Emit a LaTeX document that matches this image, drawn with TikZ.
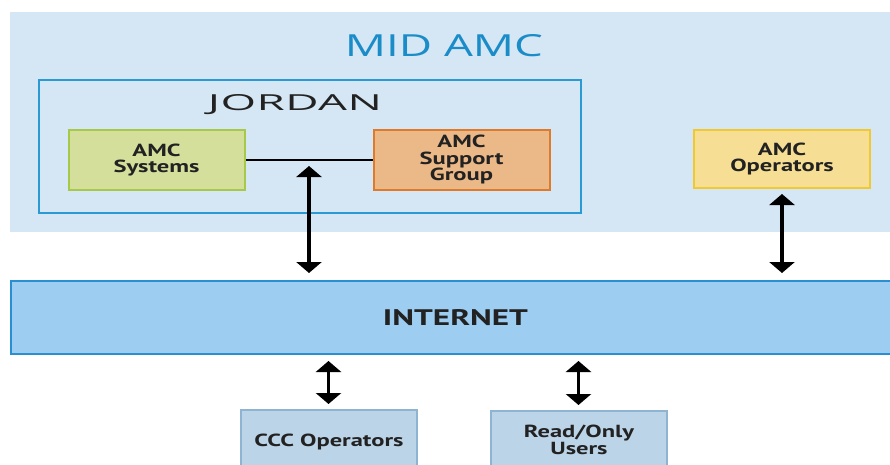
\documentclass[tikz,border=0pt]{standalone}
\usepackage{fontspec}
\setmainfont{PT Sans}
\newfontfamily\boxfont{PT Sans Bold}[FakeStretch=1.4]
\newfontfamily\titlefont{Open Sans}[LetterSpace=1]
\newfontfamily\midfont{Open Sans}
\usetikzlibrary{arrows.meta}
\definecolor{bgblue}{HTML}{D5E6F4}
\definecolor{jordanline}{HTML}{2A9AD4}
\definecolor{titleblue}{HTML}{1A8CC8}
\definecolor{sysfill}{HTML}{D4DF9C}
\definecolor{sysline}{HTML}{A6C94A}
\definecolor{supfill}{HTML}{EBB888}
\definecolor{supline}{HTML}{DD7A2C}
\definecolor{opsfill}{HTML}{F6DE94}
\definecolor{opsline}{HTML}{F0C830}
\definecolor{netfill}{HTML}{9DCDF1}
\definecolor{netline}{HTML}{2A8FD0}
\definecolor{usrfill}{HTML}{BCD4E7}
\definecolor{usrline}{HTML}{8FB4D2}
\definecolor{textdark}{HTML}{222222}
\tikzset{
  unit/.style={draw, line width=2pt, minimum width=176pt, minimum height=60pt,
    align=center, text=textdark, inner sep=0pt,
    font=\boxfont\fontsize{17.5}{16.5}\selectfont},
  boxtext/.style={text=textdark, align=center, inner sep=0pt,
    font=\boxfont\fontsize{17.5}{16.5}\selectfont},
  biarrow/.style={line width=3.6pt, {Triangle[width=25pt,length=11pt]}-{Triangle[width=25pt,length=11pt]}},
}
\begin{document}
\begin{tikzpicture}[x=1pt,y=-1pt]
\useasboundingbox (0,0) rectangle (890,465);
\clip (0,0) rectangle (890,465);
\fill[white] (0,0) rectangle (890,465);
% MID AMC region
\node[fill=bgblue, minimum width=880pt, minimum height=220pt, inner sep=0pt, anchor=north west] (mid) at (10,12) {};
\node[text=titleblue, inner sep=0pt, anchor=base] (midtitle) at (444,57) {\resizebox{198pt}{22pt}{\midfont MID AMC}};
% Jordan
\node[draw=jordanline, line width=1.6pt, minimum width=542pt, minimum height=133pt, inner sep=0pt, anchor=north west] (jordan) at (38,79) {};
\node[text=textdark, inner sep=0pt, anchor=base] (jordantitle) at (295,111) {\resizebox{174pt}{16pt}{\titlefont JORDAN}};
\node[unit, draw=sysline, fill=sysfill] (sys) at (156.5,160) {AMC\\Systems};
\node[unit, draw=supline, fill=supfill] (sup) at (461.5,160) {AMC\\Support\\Group};
\node[unit, draw=opsline, fill=opsfill, minimum height=58pt] (ops) at (782,159) {AMC\\Operators};
\draw[line width=2.5pt] (sys.east) -- (sup.west);
% Internet
\node[draw=netline, fill=netfill, line width=2pt, minimum width=884pt, minimum height=73pt, inner sep=0pt, anchor=north west] (net) at (10,280) {};
\node[text=textdark, inner sep=0pt, anchor=base] (nettext) at (455.5,325) {\resizebox{145pt}{16pt}{\bfseries INTERNET}};
% bottom boxes
\node[unit, draw=usrline, fill=usrfill, anchor=north, minimum height=80pt] (ccc) at (328.5,409) {};
\node[boxtext, anchor=base] (ccctext) at (329,446) {CCC Operators};
\node[unit, draw=usrline, fill=usrfill, anchor=north, minimum height=80pt] (ro) at (578.5,410) {};
\node[boxtext, anchor=base] (rotext) at (579,454) {Read/Only\\Users};
% arrows
\coordinate (ja) at (309,166);
\coordinate (jb) at (309,273);
\draw[biarrow] (ja) -- (jb);
\draw[biarrow] (ops.south) ++(0,5) coordinate (oa) (oa) -- (oa |- jb);
\draw[biarrow] ([yshift=-6pt]ccc.north |- net.south) -- ([yshift=5pt]ccc.north);
\draw[biarrow] ([yshift=-6pt]ro.north |- net.south) -- ([yshift=5pt]ro.north);
\end{tikzpicture}
\end{document}
